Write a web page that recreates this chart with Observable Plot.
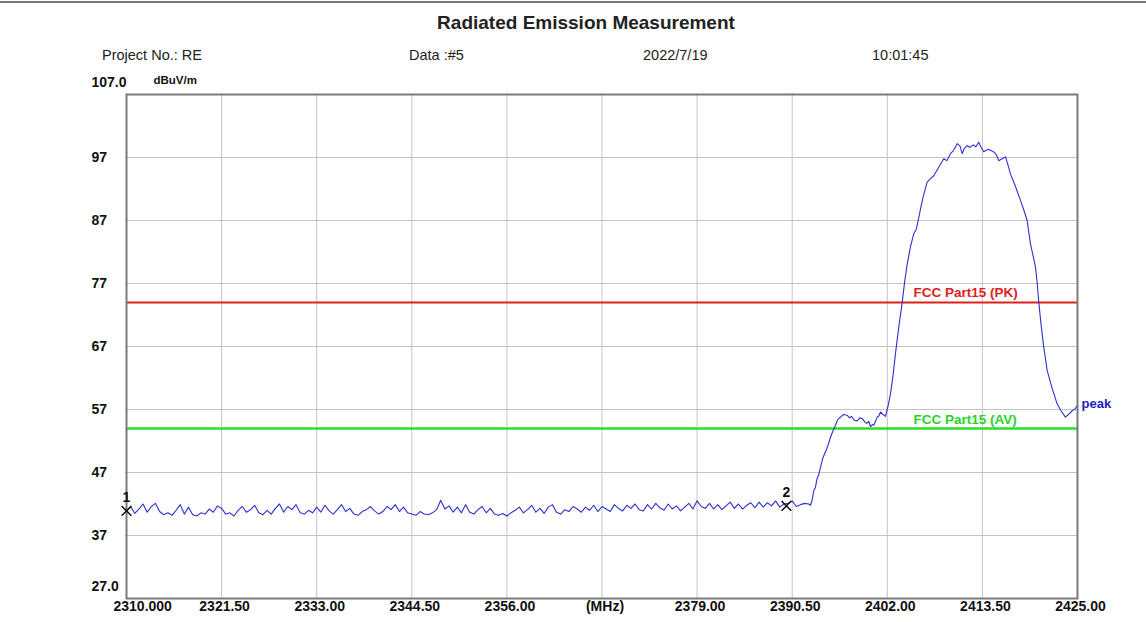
<!DOCTYPE html>
<html>
<head>
<meta charset="utf-8">
<script src="https://cdn.jsdelivr.net/npm/d3@7"></script>
<script src="https://cdn.jsdelivr.net/npm/@observablehq/plot@0.6"></script>
<style>
  html, body { margin: 0; padding: 0; background: #fff; }
  #wrap { position: relative; width: 1146px; height: 622px; overflow: hidden; font-family: "Liberation Sans", Arial, sans-serif; }
  #wrap svg { position: absolute; left: 0; top: 0; }
  .hdr { position: absolute; line-height: 1; white-space: nowrap; color: #222; transform: translateY(-50%); }
  #topline { position: absolute; left: 0; top: 1px; width: 1146px; height: 2px; background: #777; }
</style>
</head>
<body>
<div id="wrap">
  <div id="topline"></div>
  <div class="hdr" id="title" style="left:586px; top:22px; transform:translate(-50%,-50%); font-size:19px; font-weight:bold;"></div>
  <div class="hdr" id="h0" style="left:102px; top:55px; font-size:14.5px;"></div>
  <div class="hdr" id="h1" style="left:409px; top:55px; font-size:14.5px;"></div>
  <div class="hdr" id="h2" style="left:643px; top:55px; font-size:14.5px;"></div>
  <div class="hdr" id="h3" style="left:872px; top:55px; font-size:14.5px;"></div>
</div>
<script>
// ---- Text ----
const chartTitle = "Radiated Emission Measurement";
const headerTexts = ["Project No.: RE", "Data :#5", "2022/7/19", "10:01:45"];
const yUnit = "dBuV/m";

// ---- Axes ----
const xTicks = [2310, 2321.5, 2333, 2344.5, 2356, 2367.5, 2379, 2390.5, 2402, 2413.5, 2425];
const xTickLabels = ["2310.000", "2321.50", "2333.00", "2344.50", "2356.00", "(MHz)", "2379.00", "2390.50", "2402.00", "2413.50", "2425.00"];
const yTicks = [107, 97, 87, 77, 67, 57, 47, 37, 27];
const yTickLabels = ["107.0", "97", "87", "77", "67", "57", "47", "37", "27.0"];

// ---- Limits ----
const limitNames = ["FCC Part15 (PK)", "FCC Part15 (AV)"];
const limitValues = [74, 54];

// ---- Measured trace: noise floor sweep (2310 MHz, 0.5 MHz steps) ----
const sweepStart = 2310;
const sweepStep = 0.5;
const floorLevel = [
  40.9, 41.6, 40.5, 41.2, 42.0, 40.7, 41.6, 42.1, 40.8, 40.3, 40.6, 40.2, 41.0, 41.9, 40.4, 41.5, 40.3, 40.1, 40.6, 40.4,
  41.2, 40.7, 41.7, 41.3, 40.4, 40.6, 40.1, 41.0, 41.6, 40.7, 41.1, 41.8, 40.6, 40.3, 41.0, 40.4, 41.3, 42.0, 40.7, 41.6,
  41.1, 41.9, 40.6, 40.4, 41.0, 40.6, 41.5, 40.7, 41.8, 40.9, 40.4, 41.1, 41.9, 40.8, 41.3, 40.4, 40.2, 40.8, 41.1, 41.6,
  40.9, 40.4, 40.8, 41.6, 41.1, 41.9, 40.8, 41.5, 40.6, 40.4, 40.2, 40.8, 40.4, 40.3, 40.6, 41.1, 42.6, 41.2, 41.7, 40.7,
  41.5, 40.6, 41.9, 40.7, 40.4, 41.1, 41.6, 40.6, 41.3, 40.4, 40.2, 40.5, 40.1, 40.6, 41.0, 41.5, 40.6, 41.1, 41.8, 40.7,
  41.3, 40.5, 41.5, 41.9, 40.7, 40.4, 41.1, 40.8, 41.6, 41.2, 40.7, 41.5, 41.0, 41.8, 40.8, 41.6, 41.2, 40.8, 41.9, 41.3,
  40.9, 41.8, 41.3, 42.0, 41.1, 40.9, 41.9, 41.2, 42.1, 41.4, 41.0, 42.0, 41.2, 41.7, 40.9, 41.5, 42.1, 41.2, 42.5, 41.6,
  41.3, 42.1, 41.2, 41.9, 41.1, 41.7, 42.3, 41.3, 42.0, 41.2, 41.8, 42.2, 41.4, 42.3, 41.5, 42.2, 41.7, 42.5, 41.5, 42.0,
  42.1, 42.5, 41.6, 41.9, 42.1
];
// ---- Measured trace: signal region ----
const signalFreq = [
  2392.5, 2392.71, 2392.9, 2393.11, 2393.3, 2393.5, 2393.7, 2393.92, 2394.2, 2394.5,
  2394.8, 2395.13, 2395.4, 2395.73, 2396.0, 2396.34, 2396.7, 2397.15, 2397.4, 2397.7,
  2398.0, 2398.36, 2398.7, 2399.0, 2399.3, 2399.5, 2399.75, 2399.97, 2400.2, 2400.37,
  2400.6, 2400.78, 2401.0, 2401.18, 2401.5, 2401.78, 2402.1, 2402.39, 2402.7, 2402.99,
  2403.4, 2403.8, 2404.1, 2404.41, 2404.8, 2405.2, 2405.5, 2405.81, 2406.3, 2406.82,
  2407.2, 2407.62, 2408.2, 2408.83, 2409.2, 2409.64, 2410.0, 2410.45, 2410.8, 2411.05,
  2411.3, 2411.66, 2412.0, 2412.4, 2412.7, 2413.06, 2413.35, 2413.66, 2414.2, 2414.87,
  2415.2, 2415.48, 2415.9, 2416.29, 2416.6, 2416.89, 2417.5, 2418.1, 2418.5, 2418.91,
  2419.31, 2419.6, 2419.92, 2420.1, 2420.32, 2420.6, 2420.92, 2421.33, 2421.9, 2422.54,
  2423.0, 2423.54, 2423.9, 2424.35, 2424.7, 2424.96, 2425
];
const signalLevel = [
  42.0, 41.8, 42.6, 44.1, 44.6, 46.0, 46.6, 47.8, 49.3, 50.2,
  51.2, 52.6, 53.5, 54.5, 55.4, 55.8, 56.2, 56.1, 55.7, 55.9,
  55.3, 55.2, 55.7, 55.5, 55.0, 54.8, 55.1, 54.3, 54.6, 54.5,
  55.2, 55.8, 56.0, 56.6, 56.2, 55.9, 57.6, 59.5, 62.5, 65.9,
  70.2, 74.0, 77.3, 80.1, 82.8, 84.9, 85.6, 87.5, 90.6, 93.1,
  93.6, 94.1, 95.4, 96.8, 96.5, 97.6, 98.1, 99.2, 98.8, 97.6,
  98.4, 98.9, 98.6, 99.0, 98.7, 99.4, 98.6, 97.9, 98.3, 97.9,
  97.4, 96.5, 96.8, 97.1, 95.8, 94.4, 92.4, 90.2, 88.7, 87.0,
  83.3, 81.6, 79.6, 77.4, 74.0, 70.4, 66.9, 63.2, 60.5, 57.9,
  56.8, 55.8, 56.2, 56.8, 57.1, 57.6, 57.7
];

// ---- Markers ----
const markerNames = ["1", "2"];
const markerFreq = [2310, 2389.8];
const markerLevel = [40.9, 41.7];

const traceLabel = "peak";

// ---- Build ----
document.getElementById("title").textContent = chartTitle;
headerTexts.forEach((t, i) => document.getElementById("h" + i).textContent = t);

const trace = floorLevel.map((v, i) => ({f: sweepStart + i * sweepStep, v}))
  .concat(signalFreq.map((f, i) => ({f, v: signalLevel[i]})));
const xLab = xTicks.map((x, i) => ({x, t: xTickLabels[i]}));
const yLab = yTicks.map((y, i) => ({y, t: yTickLabels[i]}));
const yLabMid = yLab.slice(1, -1);
const yLabEnds = [yLab[0], yLab[yLab.length - 1]];
const markers = markerNames.map((n, i) => ({n, f: markerFreq[i], v: markerLevel[i]}));
const font = "'Liberation Sans', Arial, sans-serif";

const chart = Plot.plot({
  width: 1146,
  height: 622,
  marginLeft: 126,
  marginRight: 69,
  marginTop: 94,
  marginBottom: 24,
  style: {fontFamily: font, background: "transparent", overflow: "visible"},
  x: {domain: [2310, 2425], axis: null},
  y: {domain: [27, 107], axis: null},
  marks: [
    Plot.ruleX(xTicks.slice(1, -1), {stroke: "#c4c4c4", strokeWidth: 1}),
    Plot.ruleY(yTicks.slice(1, -1), {stroke: "#c4c4c4", strokeWidth: 1}),
    Plot.ruleY([limitValues[0]], {stroke: "#e0201c", strokeWidth: 2}),
    Plot.ruleY([limitValues[1]], {stroke: "#28e028", strokeWidth: 2.5}),
    Plot.line(trace, {x: "f", y: "v", stroke: "#3030d0", strokeWidth: 1.1}),
    Plot.frame({stroke: "#7a7a7a", strokeWidth: 2}),
    Plot.text([{x: 2405.17, y: limitValues[0], t: limitNames[0]}], {x: "x", y: "y", text: "t", textAnchor: "start", dy: -10, fill: "#e0201c", fontSize: 13.5, fontWeight: "bold"}),
    Plot.text([{x: 2405.17, y: limitValues[1], t: limitNames[1]}], {x: "x", y: "y", text: "t", textAnchor: "start", dy: -9, fill: "#28d428", fontSize: 13.5, fontWeight: "bold"}),
    Plot.text([{x: 2425, y: 57.8, t: traceLabel}], {x: "x", y: "y", text: "t", textAnchor: "start", dx: 4, dy: -1, fill: "#2020c0", fontSize: 13, fontWeight: "bold"}),
    Plot.dot(markers, {x: "f", y: "v", symbol: "times", r: 4.5, stroke: "#111", strokeWidth: 1.5}),
    Plot.text(markers, {x: "f", y: "v", text: "n", dy: -13, fill: "#111", fontSize: 14, fontWeight: "bold"}),
    Plot.text(xLab.slice(1), {x: "x", text: "t", frameAnchor: "bottom", dy: 12, dx: 3, fill: "#111", fontSize: 14, fontWeight: "bold"}),
    Plot.text(xLab.slice(0, 1), {x: "x", text: "t", frameAnchor: "bottom", dy: 12, dx: -13, textAnchor: "start", fill: "#111", fontSize: 14, fontWeight: "bold"}),
    Plot.text(yLabMid, {y: "y", text: "t", frameAnchor: "left", dx: -35, textAnchor: "start", fill: "#111", fontSize: 14, fontWeight: "bold"}),
    Plot.text(yLabEnds, {y: "y", text: "t", frameAnchor: "left", dx: -35, dy: -12, textAnchor: "start", fill: "#111", fontSize: 14, fontWeight: "bold"}),
    Plot.text([{y: 107, t: yUnit}], {y: "y", text: "t", frameAnchor: "left", dx: 27, dy: -14, textAnchor: "start", fill: "#111", fontSize: 11.5, fontWeight: "bold"})
  ]
});
document.getElementById("wrap").prepend(chart);
</script>
</body>
</html>
